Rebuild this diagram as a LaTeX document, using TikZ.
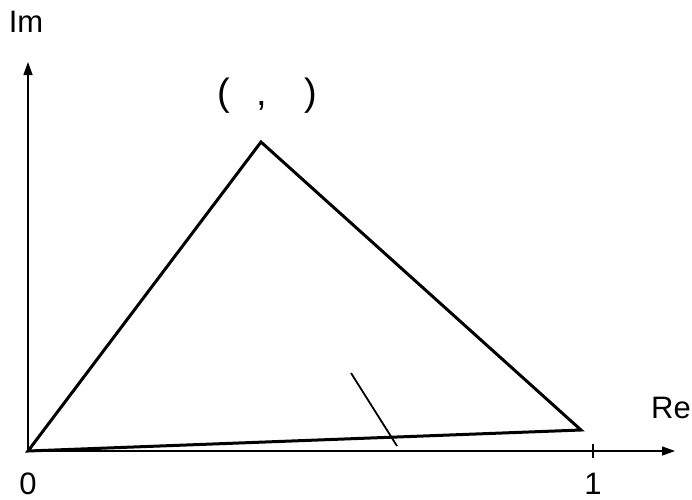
\documentclass[tikz,border=0pt]{standalone}
\usepackage{fontspec}
\setmainfont{Liberation Sans}
\usetikzlibrary{arrows.meta}
\begin{document}
\begin{tikzpicture}[x=1pt,y=-1pt,
  axis/.style={line width=1.3pt,-{Triangle[length=13pt,width=9pt]}},
  tri/.style={line width=3pt,line join=miter},
  lbl/.style={font=\fontsize{31}{36}\selectfont,inner sep=0pt}]
\useasboundingbox (0,0) rectangle (692,499);
\coordinate (O) at (28,451);
\coordinate (Y) at (28,62);
\coordinate (X) at (675,451);
\coordinate (A) at (261,142);
\coordinate (B) at (581,430);
\coordinate (T1) at (593,444);
\coordinate (T2) at (593,458);
\coordinate (S1) at (351,373);
\coordinate (S2) at (397,446);
\draw[axis] (O) -- (Y);
\draw[axis] (O) -- (X);
\draw[line width=1.2pt] (T1) -- (T2);
\draw[tri] (O) -- (A) -- (B) -- cycle;
\draw[line width=1.8pt] (S1) -- (S2);
\node[lbl] (im) at (26,22) {Im};
\node[lbl] (re) at (671,408) {Re};
\node[lbl] (zero) at (28,484) {0};
\node[lbl] (one) at (593,484) {1};
\node[lbl,font=\fontsize{38}{44}\selectfont] (pt) at (267,96) {(\hspace{27pt},\hspace{37pt})};
\end{tikzpicture}
\end{document}
